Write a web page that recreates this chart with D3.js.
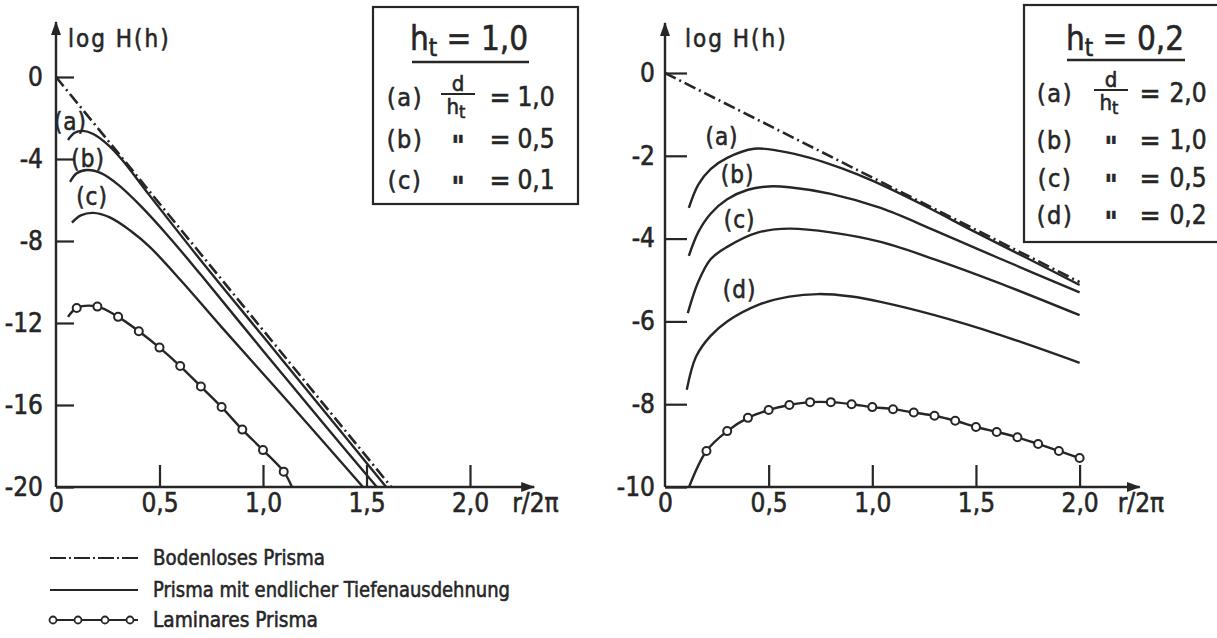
<!DOCTYPE html>
<html>
<head>
<meta charset="utf-8">
<script src="https://cdn.jsdelivr.net/npm/d3@7"></script>
<style>
  body { margin: 0; background: #fff; }
  svg { display: block; }
  svg text { stroke: #262626; stroke-width: 0.55px; }
</style>
</head>
<body>
<div id="chart"></div>
<script>
// tick values
var xTicks = [0, 0.5, 1, 1.5, 2];
var leftYTicks = [0, -4, -8, -12, -16, -20];
var rightYTicks = [0, -2, -4, -6, -8, -10];

// left panel, h_t = 1,0  -- [r/2pi, log H]
var leftBodenlos = [[0, 0], [1.62, -20]];
var leftA = [[0.058, -3.07], [0.09, -2.72], [0.13, -2.63], [0.18, -2.78], [0.25, -3.3], [0.32, -4.05],
  [0.45, -5.75], [0.7, -8.95], [1.0, -12.65], [1.3, -16.35], [1.595, -20]];
var leftB = [[0.068, -5.12], [0.1, -4.7], [0.15, -4.54], [0.22, -4.7], [0.3, -5.25], [0.41, -6.3],
  [0.55, -7.85], [0.7, -9.65], [1.0, -13.35], [1.3, -17.0], [1.55, -20]];
var leftC = [[0.077, -7.1], [0.12, -6.75], [0.18, -6.63], [0.26, -6.85], [0.36, -7.5], [0.454, -8.3],
  [0.61, -10.0], [0.8, -12.2], [1.1, -15.6], [1.483, -20]];
var leftLamStart = [0.058, -11.7];
var leftLam = [[0.1, -11.27], [0.2, -11.2], [0.3, -11.7], [0.4, -12.4], [0.5, -13.2], [0.6, -14.1],
  [0.7, -15.1], [0.8, -16.1], [0.9, -17.2], [1.0, -18.2], [1.1, -19.25]];
var leftLamEnd = [1.14, -20];

// right panel, h_t = 0,2
var rightBodenlos = [[0, 0], [2.0, -5.05]];
var rightA = [[0.115, -3.26], [0.16, -2.7], [0.22, -2.32], [0.3, -2.05], [0.43, -1.83], [0.55, -1.88],
  [0.7, -2.05], [0.85, -2.3], [1.0, -2.6], [1.25, -3.2], [1.5, -3.85], [1.75, -4.48], [2.0, -5.12]];
var rightB = [[0.115, -4.42], [0.16, -3.85], [0.22, -3.4], [0.3, -3.05], [0.4, -2.82], [0.5, -2.74],
  [0.6, -2.76], [0.8, -2.92], [1.04, -3.26], [1.3, -3.8], [1.6, -4.45], [2.0, -5.3]];
var rightC = [[0.11, -5.8], [0.16, -5.05], [0.22, -4.5], [0.3, -4.2], [0.45, -3.85], [0.6, -3.76],
  [0.8, -3.85], [1.04, -4.08], [1.3, -4.5], [1.6, -5.05], [2.0, -5.85]];
var rightD = [[0.105, -7.65], [0.15, -6.85], [0.22, -6.35], [0.3, -6.0], [0.45, -5.6], [0.6, -5.4],
  [0.74, -5.34], [0.9, -5.4], [1.04, -5.53], [1.3, -5.85], [1.6, -6.3], [2.0, -7.0]];
var rightLamStart = [0.116, -10];
var rightLam = [[0.2, -9.13], [0.3, -8.65], [0.4, -8.33], [0.5, -8.14], [0.6, -8.02], [0.7, -7.95],
  [0.8, -7.95], [0.9, -8.0], [1.0, -8.07], [1.1, -8.12], [1.2, -8.2], [1.3, -8.28], [1.4, -8.4],
  [1.5, -8.55], [1.6, -8.67], [1.7, -8.8], [1.8, -8.96], [1.9, -9.13], [2.0, -9.3]];
var rightLamEnd = null;

// curve names and where their letters sit (data units)
var leftCurveNames = ["(a)", "(b)", "(c)"];
var leftNameAt = [[0.07, -2.2], [0.155, -4.0], [0.174, -5.85]];
var rightCurveNames = ["(a)", "(b)", "(c)", "(d)"];
var rightNameAt = [[0.275, -1.55], [0.35, -2.46], [0.36, -3.55], [0.36, -5.24]];

// parameter boxes
var leftTitle = "1,0";
var leftRows = ["(a)", "(b)", "(c)"];
var leftRatios = ["1,0", "0,5", "0,1"];
var rightTitle = "0,2";
var rightRows = ["(a)", "(b)", "(c)", "(d)"];
var rightRatios = ["2,0", "1,0", "0,5", "0,2"];

var legendNames = ["Bodenloses Prisma", "Prisma mit endlicher Tiefenausdehnung", "Laminares Prisma"];

var FONT = "'Liberation Sans Narrow', 'DejaVu Sans Condensed', 'Liberation Sans', sans-serif";
var ink = "#262626";

var svg = d3.select("#chart").append("svg")
  .attr("width", 1217)
  .attr("height", 638)
  .style("background", "#fff");

svg.append("defs").append("marker")
  .attr("id", "arrow")
  .attr("viewBox", "0 0 14 10")
  .attr("refX", 13)
  .attr("refY", 5)
  .attr("markerWidth", 14)
  .attr("markerHeight", 10)
  .attr("markerUnits", "userSpaceOnUse")
  .attr("orient", "auto")
  .append("path")
  .attr("d", "M0,0L14,5L0,10z")
  .attr("fill", ink);

var fmt = d => (d === 0 ? "0" : d3.format(".1f")(d).replace(".", ","));

var drawPanel = p => {
  var x = d3.scaleLinear().domain([0, 2]).range([p.x0, p.x0 + 2 * p.unit]);
  var y = d3.scaleLinear().domain([p.yMin, 0]).range([487, p.y0]);
  var g = svg.append("g");

  var line = d3.line()
    .x(d => x(d[0]))
    .y(d => y(d[1]))
    .curve(d3.curveCatmullRom.alpha(0.5));

  // axis lines with arrows
  g.append("line")
    .attr("x1", x(0)).attr("y1", y(p.yMin))
    .attr("x2", x(0)).attr("y2", y(p.yTop))
    .attr("stroke", ink).attr("stroke-width", 2.4)
    .attr("marker-end", "url(#arrow)");
  g.append("line")
    .attr("x1", x(0)).attr("y1", y(p.yMin))
    .attr("x2", x(p.xEnd)).attr("y2", y(p.yMin))
    .attr("stroke", ink).attr("stroke-width", 2.4)
    .attr("marker-end", "url(#arrow)");

  var yAxis = d3.axisLeft(y)
    .tickValues(p.yTicks)
    .tickSize(-p.yTickLen)
    .tickPadding(p.yPad)
    .tickFormat(d => String(d));
  g.append("g")
    .attr("class", "y axis")
    .attr("transform", `translate(${x(0)},0)`)
    .call(yAxis)
    .call(a => a.select(".domain").remove())
    .attr("font-size", 26)
    .attr("font-family", FONT)
    .call(a => a.selectAll("line").attr("stroke", ink).attr("stroke-width", 2.2))
    .call(a => a.selectAll("text").attr("fill", ink));

  var xAxis = d3.axisBottom(x)
    .tickValues(xTicks)
    .tickSize(-22)
    .tickPadding(7)
    .tickFormat(fmt);
  g.append("g")
    .attr("class", "x axis")
    .attr("transform", `translate(0,${y(p.yMin)})`)
    .call(xAxis)
    .call(a => a.select(".domain").remove())
    .attr("font-size", 26)
    .attr("font-family", FONT)
    .call(a => a.selectAll("line").attr("stroke", ink).attr("stroke-width", 2.2)
      .attr("display", d => (d === 0 ? "none" : null)))
    .call(a => a.selectAll("text").attr("fill", ink));

  g.append("text")
    .attr("x", x(p.xEnd) - 22)
    .attr("y", y(p.yMin) + 7)
    .attr("dy", "0.71em")
    .attr("font-size", 26)
    .attr("font-family", FONT)
    .attr("fill", ink)
    .text("r/2\u03c0");

  g.append("text")
    .attr("x", x(0) + p.labelDx)
    .attr("y", 39)
    .attr("dominant-baseline", "central")
    .attr("font-size", 24)
    .attr("letter-spacing", 2)
    .attr("font-family", FONT)
    .attr("fill", ink)
    .text("log H(h)");

  // bottomless prism
  g.append("path")
    .attr("d", line(p.bodenlos))
    .attr("fill", "none")
    .attr("stroke", ink)
    .attr("stroke-width", 2.6)
    .attr("stroke-dasharray", "12,4,2,4");

  // finite depth prisms
  g.selectAll(".curve")
    .data(p.curves)
    .enter()
    .append("path")
    .attr("class", "curve")
    .attr("d", d => line(d))
    .attr("fill", "none")
    .attr("stroke", ink)
    .attr("stroke-width", 2.4);

  g.selectAll(".cname")
    .data(p.names)
    .enter()
    .append("text")
    .attr("class", "cname")
    .attr("x", (d, i) => x(p.nameAt[i][0]))
    .attr("y", (d, i) => y(p.nameAt[i][1]))
    .attr("text-anchor", "middle")
    .attr("dominant-baseline", "central")
    .attr("font-size", 24)
    .attr("letter-spacing", 1)
    .attr("font-family", FONT)
    .attr("fill", ink)
    .text(d => d);

  // laminar prism
  var lam = [p.lamStart].concat(p.lam, p.lamEnd ? [p.lamEnd] : []);
  g.append("path")
    .attr("d", line(lam))
    .attr("fill", "none")
    .attr("stroke", ink)
    .attr("stroke-width", 2.4);
  g.selectAll(".lam")
    .data(p.lam)
    .enter()
    .append("circle")
    .attr("class", "lam")
    .attr("cx", d => x(d[0]))
    .attr("cy", d => y(d[1]))
    .attr("r", 4)
    .attr("fill", "#fff")
    .attr("stroke", ink)
    .attr("stroke-width", 2);
};

drawPanel({
  x0: 56, unit: 207, y0: 77, yMin: -20, yTop: 2.68, xEnd: 2.31,
  yTicks: leftYTicks, yTickLen: 18, yPad: 13, labelDx: 12,
  bodenlos: leftBodenlos, curves: [leftA, leftB, leftC],
  names: leftCurveNames, nameAt: leftNameAt,
  lamStart: leftLamStart, lam: leftLam, lamEnd: leftLamEnd
});

drawPanel({
  x0: 665, unit: 207.3, y0: 73, yMin: -10, yTop: 1.21, xEnd: 2.29,
  yTicks: rightYTicks, yTickLen: 22, yPad: 10, labelDx: 20,
  bodenlos: rightBodenlos, curves: [rightA, rightB, rightC, rightD],
  names: rightCurveNames, nameAt: rightNameAt,
  lamStart: rightLamStart, lam: rightLam, lamEnd: rightLamEnd
});

// parameter boxes
var drawBox = b => {
  var g = svg.append("g").attr("font-family", FONT).attr("fill", ink);
  g.append("rect")
    .attr("x", b.x).attr("y", b.y).attr("width", b.w).attr("height", b.h)
    .attr("fill", "#fff").attr("stroke", ink).attr("stroke-width", 2.2);

  var t = g.append("text")
    .attr("x", b.titleX).attr("y", 50)
    .attr("text-anchor", "middle")
    .attr("font-size", 33);
  t.append("tspan").text("h");
  t.append("tspan").attr("font-size", 24).attr("dy", 6).text("t");
  t.append("tspan").attr("dy", -6).text(" = " + b.title);
  g.append("line")
    .attr("x1", b.ulX1).attr("x2", b.ulX2).attr("y1", b.ulY).attr("y2", b.ulY)
    .attr("stroke", ink).attr("stroke-width", 2.4);

  var rows = g.selectAll(".row")
    .data(b.rows)
    .enter()
    .append("g")
    .attr("class", "row")
    .attr("transform", (d, i) => `translate(0,${b.rowY[i]})`);

  rows.append("text")
    .attr("x", b.colX[0]).attr("text-anchor", "middle").attr("dominant-baseline", "central")
    .attr("font-size", 25).attr("letter-spacing", 1.5)
    .text(d => d);
  rows.append("text")
    .attr("x", b.colX[2]).attr("text-anchor", "middle").attr("dominant-baseline", "central")
    .attr("font-size", 28)
    .text("=");
  rows.append("text")
    .attr("x", b.colX[3]).attr("text-anchor", "middle").attr("dominant-baseline", "central")
    .attr("font-size", 26)
    .text((d, i) => b.ratios[i]);

  // d / h_t fraction on first row, ditto marks below
  rows.filter((d, i) => i === 0).each(function () {
    var r = d3.select(this);
    r.append("text").attr("x", b.colX[1]).attr("y", -6).attr("text-anchor", "middle")
      .attr("font-size", 22).text("d");
    r.append("line").attr("x1", b.colX[1] - 17).attr("x2", b.colX[1] + 17)
      .attr("y1", -3).attr("y2", -3).attr("stroke", ink).attr("stroke-width", 2);
    var h = r.append("text").attr("x", b.colX[1] - 2).attr("y", 17).attr("text-anchor", "middle")
      .attr("font-size", 22);
    h.append("tspan").text("h");
    h.append("tspan").attr("font-size", 18).attr("dy", 4).text("t");
  });
  rows.filter((d, i) => i > 0).append("text")
    .attr("x", b.colX[1]).attr("y", 17).attr("text-anchor", "middle")
    .attr("font-size", 28).attr("font-weight", "bold")
    .text("\"");
};

drawBox({
  x: 373, y: 7, w: 205, h: 197, title: leftTitle, titleX: 469,
  ulX1: 412, ulX2: 529, ulY: 62,
  rows: leftRows, ratios: leftRatios, rowY: [97, 139, 180], colX: [405, 458, 500, 536]
});

drawBox({
  x: 1024, y: 5, w: 210, h: 237, title: rightTitle, titleX: 1125,
  ulX1: 1067, ulX2: 1185, ulY: 60,
  rows: rightRows, ratios: rightRatios, rowY: [93, 140, 178, 215], colX: [1055, 1111, 1150, 1188]
});

// bottom legend
var legend = svg.append("g").attr("font-family", FONT).attr("fill", ink);
var legY = [558, 590, 620];
var legWidth = [172, 357, 165];
legend.append("line").attr("x1", 50).attr("x2", 138).attr("y1", legY[0]).attr("y2", legY[0])
  .attr("stroke", ink).attr("stroke-width", 2.2).attr("stroke-dasharray", "16,3,2,3");
legend.append("line").attr("x1", 50).attr("x2", 138).attr("y1", legY[1]).attr("y2", legY[1])
  .attr("stroke", ink).attr("stroke-width", 2.2);
legend.append("line").attr("x1", 50).attr("x2", 138).attr("y1", legY[2]).attr("y2", legY[2])
  .attr("stroke", ink).attr("stroke-width", 2.2);
legend.selectAll(".lc")
  .data([53, 78, 105, 130])
  .enter()
  .append("circle")
  .attr("class", "lc")
  .attr("cx", d => d).attr("cy", legY[2]).attr("r", 3.5)
  .attr("fill", "#fff").attr("stroke", ink).attr("stroke-width", 1.8);
legend.selectAll(".lt")
  .data(legendNames)
  .enter()
  .append("text")
  .attr("class", "lt")
  .attr("x", 153)
  .attr("y", (d, i) => legY[i])
  .attr("dominant-baseline", "central")
  .attr("font-size", 21)
  .attr("textLength", (d, i) => legWidth[i])
  .attr("lengthAdjust", "spacingAndGlyphs")
  .text(d => d);
</script>
</body>
</html>
